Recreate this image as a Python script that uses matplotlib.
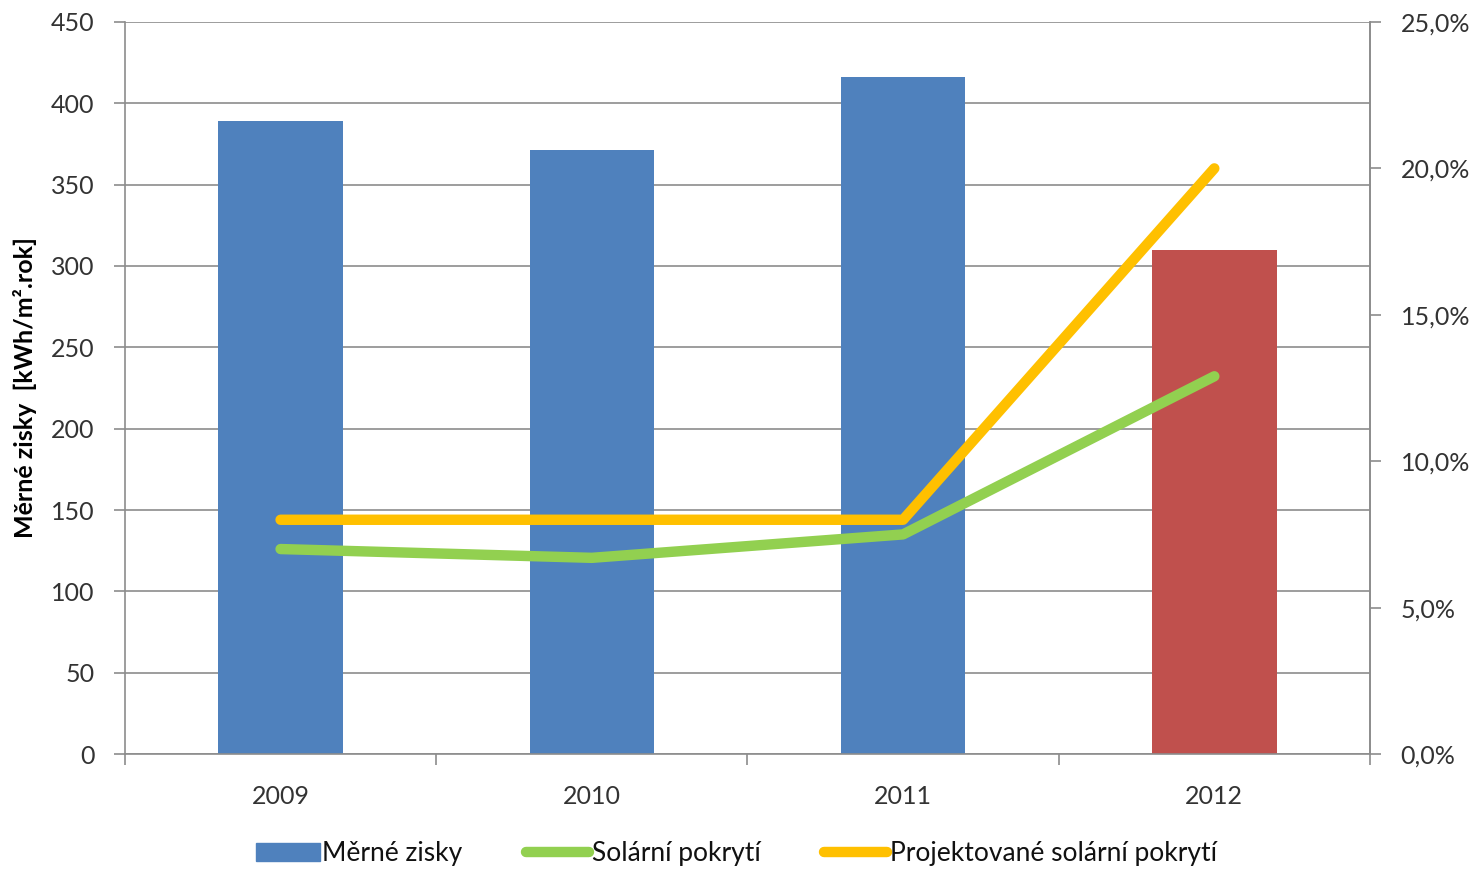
import numpy as np
import matplotlib.pyplot as plt
from matplotlib.ticker import FuncFormatter
from matplotlib.patches import Patch
from matplotlib.lines import Line2D

plt.rcParams['font.family'] = ['Lato', 'DejaVu Sans']

roky = ['2009', '2010', '2011', '2012']
merne_zisky = [389, 371, 416, 310]
solarni_pokryti = [7.0, 6.7, 7.5, 12.9]
projektovane = [8.0, 8.0, 8.0, 20.0]

barvy_sloupcu = ['#4F81BD', '#4F81BD', '#4F81BD', '#C0504D']
seda = '#8c8c8c'

fig = plt.figure(figsize=(14.82, 8.72), dpi=100)
ax = fig.add_axes([0.0843, 0.1353, 0.8401, 0.8395])
x = np.arange(len(roky))

ax.bar(x, merne_zisky, width=0.4, color=barvy_sloupcu, zorder=2)
ax.set_xlim(-0.5, 3.5)
ax.set_ylim(0, 450)
ax.set_yticks(np.arange(0, 451, 50))
ax.yaxis.grid(True, color=seda, linewidth=1.2, zorder=0)
ax.set_axisbelow(True)
ax.set_xticks(x)
ax.set_xticklabels(roky)
ax.set_xticks(np.arange(-0.5, 3.6, 1), minor=True)
ax.tick_params(axis='x', which='major', length=0, pad=22, labelsize=18, colors='#333333')
ax.tick_params(axis='x', which='minor', length=8, color=seda, width=1.2)
ax.tick_params(axis='y', length=8, color=seda, width=1.2, labelsize=18, pad=14, labelcolor='#333333')
ax.set_ylabel('Měrné zisky  [kWh/m².rok]', fontsize=18, fontweight='bold', labelpad=10)
ax.spines['top'].set_visible(False)
for s in ['left', 'bottom', 'right']:
    ax.spines[s].set_color(seda)
    ax.spines[s].set_linewidth(1.2)

# procenta na prave ose
ax2 = ax.twinx()
ax2.plot(x, solarni_pokryti, color='#92D050', linewidth=7.5, solid_capstyle='round',
         solid_joinstyle='round', zorder=3)
ax2.plot(x, projektovane, color='#FFC000', linewidth=7.5, solid_capstyle='round',
         solid_joinstyle='round', zorder=4)
ax2.set_ylim(0, 25)
ax2.set_yticks(np.arange(0, 26, 5))
ax2.yaxis.set_major_formatter(FuncFormatter(lambda v, p: f'{v:.1f}'.replace('.', ',') + '%'))
ax2.tick_params(axis='y', length=8, color=seda, width=1.2, labelsize=18, pad=14, labelcolor='#333333')
for s in ['top', 'left', 'bottom']:
    ax2.spines[s].set_visible(False)
ax2.spines['right'].set_color(seda)
ax2.spines['right'].set_linewidth(1.2)

handles = [Patch(color='#4F81BD'),
           Line2D([], [], color='#92D050', linewidth=7.5, solid_capstyle='round'),
           Line2D([], [], color='#FFC000', linewidth=7.5, solid_capstyle='round')]
labels = ['Měrné zisky', 'Solární pokrytí', 'Projektované solární pokrytí']
fig.legend(handles, labels, loc='center', bbox_to_anchor=(0.497, 0.021), ncol=3,
           frameon=False, fontsize=19, handlelength=2.4, handletextpad=0.1,
           columnspacing=2.4, labelcolor='#111111')

fig.savefig('out.png', dpi=100)
